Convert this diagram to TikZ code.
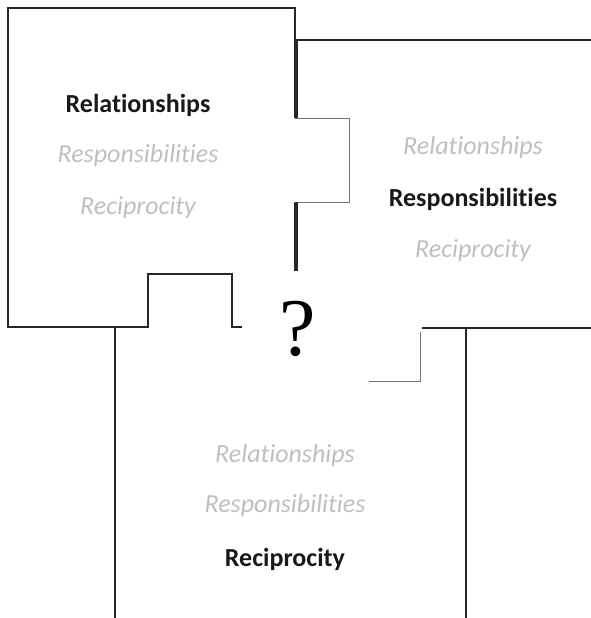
\documentclass[tikz,border=0pt]{standalone}
\usepackage{fontspec}
\setsansfont{Carlito}[Ligatures=NoCommon]
\newfontfamily\qfont{Liberation Serif}
\usepackage{tikz}

\begin{document}
\begin{tikzpicture}[x=1pt,y=-1pt,
  edge/.style={draw=black!85,line width=1.3pt},
  tab/.style={draw=black!55,line width=0.9pt},
  main/.style={anchor=base,text=black!90,font=\sffamily\bfseries\fontsize{26}{30}\selectfont},
  faint/.style={anchor=base,text=black!25,font=\sffamily\itshape\fontsize{26}{30}\selectfont}]

\useasboundingbox (0,0) rectangle (591,618);

% first piece, top left
\draw[edge] (295,118) -- (295,8) -- (8,8) -- (8,327) -- (148,327) -- (148,274) -- (232,274) -- (232,327) -- (242,327);
\draw[edge] (295,202) -- (295,271);
\draw[tab] (295,118) -- (349,118) -- (349,202) -- (295,202);

% second piece, right
\draw[edge] (591,40) -- (297,40) -- (297,118);
\draw[edge] (297,202) -- (297,271);
\draw[edge] (591,328) -- (422,328);
\draw[tab] (420,332) -- (420,381) -- (369,381);

% third piece, bottom
\draw[edge] (115,618) -- (115,327);
\draw[edge] (466,618) -- (466,328);

\node[main]  (rel1) at (138,112) {Relationships};
\node[faint] (res1) at (138,162) {Responsibilities};
\node[faint] (rec1) at (138,214) {Reciprocity};

\node[faint] (rel2) at (473,154) {Relationships};
\node[main]  (res2) at (473,206) {Responsibilities};
\node[faint] (rec2) at (473,257) {Reciprocity};

\node[faint] (rel3) at (285,462) {Relationships};
\node[faint] (res3) at (285,512) {Responsibilities};
\node[main]  (rec3) at (285,566) {Reciprocity};

\node[anchor=base,font=\qfont\fontsize{82}{82}\selectfont] (q) at (298,355) {?};

\end{tikzpicture}
\end{document}
